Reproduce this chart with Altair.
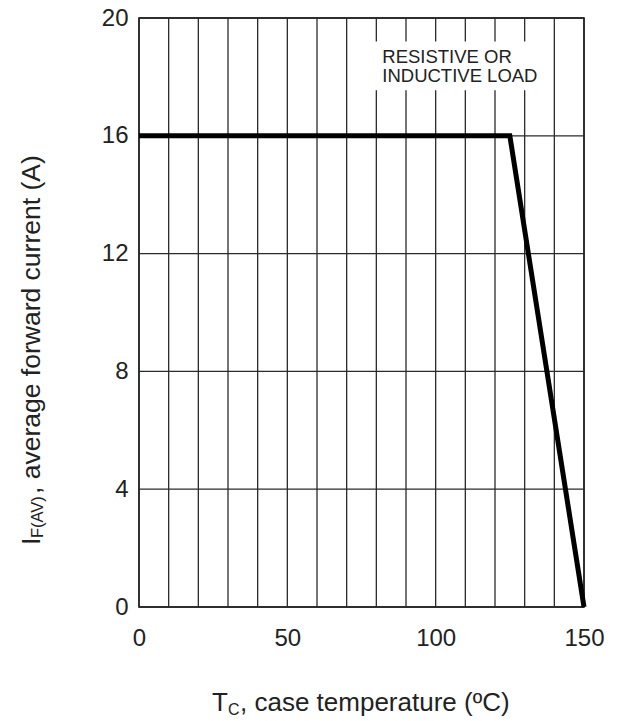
import altair as alt
import pandas as pd

# Derating curve
temp_c = [0, 125, 150]
current_a = [16, 16, 0]

x_ticks = [0, 50, 100, 150]
y_ticks = [0, 4, 8, 12, 16, 20]
x_grid = list(range(0, 151, 10))
y_grid = [0, 4, 8, 12, 16, 20]

note_lines = ["RESISTIVE OR", "INDUCTIVE LOAD"]
note_x = [82, 82]
note_y = [18.47, 17.83]

box_x = [78.5]
box_x2 = [137]
box_y = [17.55]
box_y2 = [19.2]

FONT = "Liberation Sans"
W, H = 445, 589

curve = pd.DataFrame({"t": temp_c, "i": current_a})

xs = alt.Scale(domain=[0, 150], nice=False)
ys = alt.Scale(domain=[0, 20], nice=False)

x_axis = alt.Axis(values=x_ticks, grid=False, ticks=False, domain=False,
                  labelFont=FONT, labelFontSize=24, labelColor="#222",
                  labelFlush=False, labelOverlap=False,
                  labelPadding=19, title=None)
y_axis = alt.Axis(values=y_ticks, grid=False, ticks=False, domain=False,
                  labelFont=FONT, labelFontSize=24, labelColor="#222",
                  labelFlush=False, labelOverlap=False,
                  labelPadding=11, title=None)

vgrid = alt.Chart(pd.DataFrame({"g": x_grid})).mark_rule(
    color="#2a2a2a", strokeWidth=1.3
).encode(x=alt.X("g:Q", scale=xs, axis=x_axis))

hgrid = alt.Chart(pd.DataFrame({"g": y_grid})).mark_rule(
    color="#2a2a2a", strokeWidth=1.3
).encode(y=alt.Y("g:Q", scale=ys, axis=y_axis))

box = alt.Chart(pd.DataFrame({"x": box_x, "x2": box_x2, "y": box_y, "y2": box_y2})).mark_rect(
    color="white"
).encode(x=alt.X("x:Q", scale=xs), x2="x2:Q", y=alt.Y("y:Q", scale=ys), y2="y2:Q")

note = alt.Chart(pd.DataFrame({"x": note_x, "y": note_y, "t": note_lines})).mark_text(
    font=FONT, fontSize=18.5, align="left", baseline="alphabetic", color="#222"
).encode(x=alt.X("x:Q", scale=xs), y=alt.Y("y:Q", scale=ys), text="t:N")

line = alt.Chart(curve).mark_line(
    color="black", strokeWidth=5, strokeJoin="miter"
).encode(x=alt.X("t:Q", scale=xs), y=alt.Y("i:Q", scale=ys))

one = pd.DataFrame({"a": [0]})

def label(text, x, y, size, angle=0):
    kw = dict(font=FONT, fontSize=size, align="left", baseline="alphabetic",
              color="#222", text=text)
    if angle:
        kw["angle"] = angle
    return alt.Chart(one).mark_text(**kw).encode(x=alt.value(x), y=alt.value(y))

# x-axis title: T_C, case temperature (ºC)
xt1 = label("T", 73, 693, 26)
xt2 = label("C", 89, 697, 16)
xt3 = label(", case temperature (ºC)", 101, 693, 26)

# y-axis title: I_F(AV),  average forward current (A)
yt1 = label("I", -99, 527, 26.5, 270)
yt2 = label("F(AV)", -96, 520, 16.5, 270)
yt3 = label(",  average forward current (A)", -99, 476, 26.5, 270)

chart = alt.layer(
    vgrid, hgrid, box, note, line, xt1, xt2, xt3, yt1, yt2, yt3
).properties(
    width=W, height=H,
    autosize=alt.AutoSizeParams(type="none"),
    padding={"left": 131, "top": 10, "right": 33, "bottom": 110},
).configure_view(
    stroke="black", strokeWidth=1.5
)

chart.save("out.html", embed_options={"renderer": "svg", "actions": False})
